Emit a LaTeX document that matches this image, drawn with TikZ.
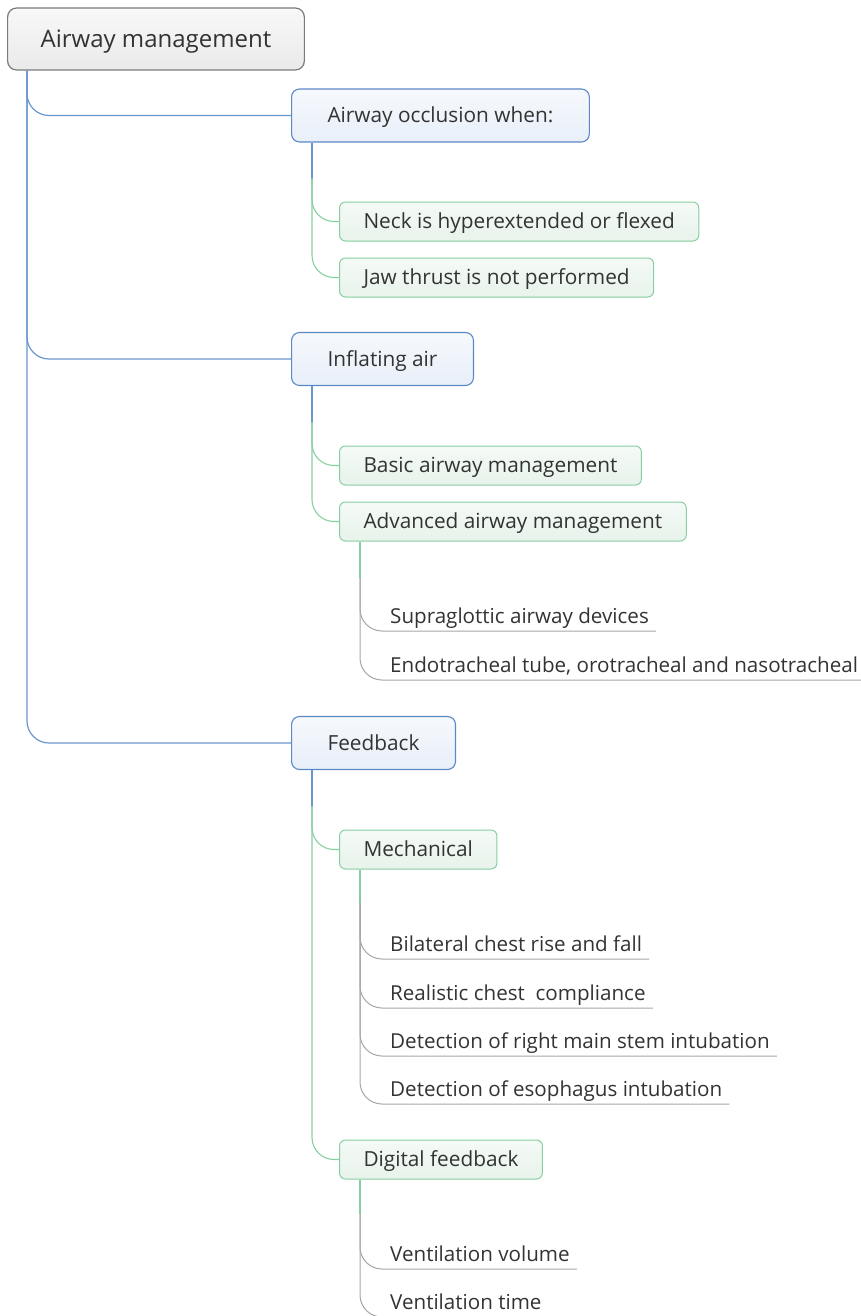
\documentclass[tikz,border=0pt]{standalone}
\usepackage{fontspec}
\setmainfont{Open Sans}
\usetikzlibrary{calc}
\definecolor{txt}{HTML}{333333}
\definecolor{rootborder}{HTML}{7A7A7A}
\definecolor{roottop}{HTML}{F8F8F8}
\definecolor{rootbot}{HTML}{EAEAEA}
\definecolor{lonebord}{HTML}{5B89C7}
\definecolor{lonetop}{HTML}{F6F9FD}
\definecolor{lonebot}{HTML}{E8EFF9}
\definecolor{blueline}{HTML}{6A96CE}
\definecolor{ltwobord}{HTML}{86CFA0}
\definecolor{ltwotop}{HTML}{F5FAF7}
\definecolor{ltwobot}{HTML}{E7F3EB}
\definecolor{greenline}{HTML}{86CFA0}
\definecolor{grayline}{HTML}{A6A6A6}
\begin{document}
\begin{tikzpicture}[x=1pt,y=-1pt,
  rootbox/.style={draw=rootborder, line width=1.2pt, rounded corners=9pt,
    top color=roottop, bottom color=rootbot, minimum height=62pt,
    inner xsep=33pt, inner ysep=0pt, anchor=west,
    font=\fontsize{24}{28}\selectfont, text height=17.1pt, text depth=0pt, text=txt},
  lonebox/.style={draw=lonebord, line width=1.1pt, rounded corners=8pt,
    top color=lonetop, bottom color=lonebot, minimum height=53pt,
    inner xsep=36pt, inner ysep=0pt, anchor=west,
    font=\fontsize{20.8}{24}\selectfont, text height=14.8pt, text depth=0pt, text=txt},
  ltwobox/.style={draw=ltwobord, line width=1pt, rounded corners=6pt,
    top color=ltwotop, bottom color=ltwobot, minimum height=39pt,
    inner xsep=24pt, inner ysep=0pt, anchor=west,
    font=\fontsize{20.8}{24}\selectfont, text height=14.8pt, text depth=0pt, text=txt},
  leaf/.style={inner xsep=7pt, inner ysep=0pt, anchor=south west,
    font=\fontsize{20.6}{24}\selectfont, text height=15pt, text depth=7pt, text=txt},
  bluelink/.style={draw=blueline, line width=1.2pt, rounded corners=22pt},
  greenlink/.style={draw=greenline, line width=1.1pt, rounded corners=22pt},
  graylink/.style={draw=grayline, line width=1pt, rounded corners=22pt}
]
\useasboundingbox (0,0) rectangle (860,1316);

% nodes
\node[rootbox] (root) at (7,39) {Airway management};

\node[lonebox] (A) at (291,115.5) {Airway occlusion when:};
\node[lonebox] (B) at (291,359) {Inflating air};
\node[lonebox] (C) at (291,743) {Feedback};

\node[ltwobox] (A1) at (339,221.5) {Neck is hyperextended or flexed};
\node[ltwobox] (A2) at (339,277.5) {Jaw thrust is not performed};
\node[ltwobox] (B1) at (339,465.5) {Basic airway management};
\node[ltwobox] (B2) at (339,521.5) {Advanced airway management};
\node[ltwobox] (C1) at (339,849.5) {Mechanical};
\node[ltwobox] (C2) at (339,1159.5) {Digital feedback};

\node[leaf] (B21) at (383,631) {Supraglottic airway devices};
\node[leaf] (B22) at (383,680) {Endotracheal tube, orotracheal and nasotracheal};
\node[leaf] (C11) at (383,959) {Bilateral chest rise and fall};
\node[leaf] (C12) at (383,1008) {Realistic chest~~compliance};
\node[leaf] (C13) at (383,1056) {Detection of right main stem intubation};
\node[leaf] (C14) at (383,1104) {Detection of esophagus intubation};
\node[leaf] (C21) at (383,1269) {Ventilation volume};
\node[leaf] (C22) at (383,1317) {Ventilation time};

% coordinates for trunks
\coordinate (r0) at ($(root.south west)+(20,0)$);
\coordinate (a0) at ($(A.south west)+(21,0)$);
\coordinate (a1) at ($(A.south west)+(21,36)$);
\coordinate (b0) at ($(B.south west)+(21,0)$);
\coordinate (b1) at ($(B.south west)+(21,36)$);
\coordinate (c0) at ($(C.south west)+(21,0)$);
\coordinate (c1) at ($(C.south west)+(21,36)$);
\coordinate (bb0) at ($(B2.south west)+(21,0)$);
\coordinate (bb1) at ($(B2.south west)+(21,36)$);
\coordinate (ca0) at ($(C1.south west)+(21,0)$);
\coordinate (ca1) at ($(C1.south west)+(21,34)$);
\coordinate (cb0) at ($(C2.south west)+(21,0)$);
\coordinate (cb1) at ($(C2.south west)+(21,34)$);

% root links
\draw[bluelink] (r0) |- (A.west);
\draw[bluelink] (r0) |- (B.west);
\draw[bluelink] (r0) |- (C.west);

% level 1 stubs and links
\draw[bluelink] (a0) -- (a1);
\draw[greenlink] (a1) |- (A1.west);
\draw[greenlink] (a1) |- (A2.west);
\draw[bluelink] (b0) -- (b1);
\draw[greenlink] (b1) |- (B1.west);
\draw[greenlink] (b1) |- (B2.west);
\draw[bluelink] (c0) -- (c1);
\draw[greenlink] (c1) |- (C1.west);
\draw[greenlink] (c1) |- (C2.west);

% level 2 stubs and links
\draw[greenlink] (bb0) -- (bb1);
\draw[graylink] (bb1) |- (B21.south east);
\draw[graylink] (bb1) |- (B22.south east);
\draw[greenlink] (ca0) -- (ca1);
\draw[graylink] (ca1) |- (C11.south east);
\draw[graylink] (ca1) |- (C12.south east);
\draw[graylink] (ca1) |- (C13.south east);
\draw[graylink] (ca1) |- (C14.south east);
\draw[greenlink] (cb0) -- (cb1);
\draw[graylink] (cb1) |- (C21.south east);
\draw[graylink] (cb1) |- (C22.south east);
\end{tikzpicture}
\end{document}
